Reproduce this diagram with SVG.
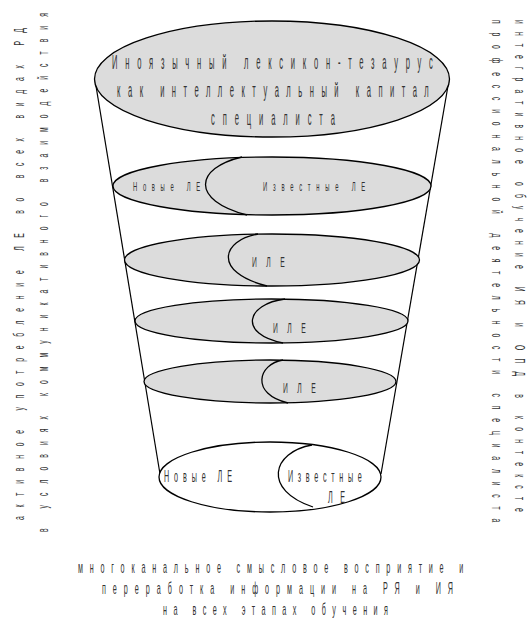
<svg xmlns="http://www.w3.org/2000/svg" width="530" height="628" viewBox="0 0 530 628">
<style>
.bg{fill:#ffffff}
.ell{fill:#dcdcdc;stroke:#000;stroke-width:1.3}
.ellw{fill:#ffffff;stroke:#000;stroke-width:1.3}
.arc{fill:none;stroke:#000;stroke-width:1.3}
.ln{fill:none;stroke:#000;stroke-width:1.2}
text{font-family:"Liberation Sans",Arial,sans-serif;fill:#333333}
.big{font-size:21px}
.mid{font-size:16px}
.sm{font-size:13px}
.ile{font-size:15px}
.side{font-size:15px}
</style>
<rect class="bg" x="0" y="0" width="530" height="628"/>
<g id="connectors">
<line class="ln" x1="95" y1="80" x2="160" y2="474"/>
<line class="ln" x1="449" y1="80" x2="381" y2="474"/>
</g>
<g id="top-node">
<ellipse class="ell" cx="272" cy="79" rx="177.5" ry="58"/>
<text class="big" transform="translate(112,69) scale(0.36,1)" textLength="891" lengthAdjust="spacing">Иноязычный лексикон-тезаурус</text>
<text class="big" transform="translate(117,97) scale(0.36,1)" textLength="866" lengthAdjust="spacing">как интеллектуальный капитал</text>
<text class="big" transform="translate(211,125) scale(0.36,1)" textLength="344" lengthAdjust="spacing">специалиста</text>
</g>
<g id="layer-1">
<ellipse class="ell" cx="272" cy="186" rx="159" ry="29"/>
<path class="arc" d="M242,157 C195,168 190,200 247,215"/>
<text class="sm" transform="translate(133,191) scale(0.45,1)" textLength="149" lengthAdjust="spacing">Новые ЛЕ</text>
<text class="sm" transform="translate(263,191) scale(0.45,1)" textLength="227" lengthAdjust="spacing">Известные ЛЕ</text>
</g>
<g id="layer-2">
<ellipse class="ell" cx="272" cy="260" rx="147.5" ry="26"/>
<path class="arc" d="M258,234 C222,240 212,272 267,286"/>
<text class="ile" transform="translate(252,267) scale(0.45,1)" textLength="73" lengthAdjust="spacing">ИЛЕ</text>
</g>
<g id="layer-3">
<ellipse class="ell" cx="271.5" cy="321" rx="136.5" ry="22"/>
<path class="arc" d="M285,299 C246,304 238,334 283,343"/>
<text class="ile" transform="translate(273,333) scale(0.45,1)" textLength="73" lengthAdjust="spacing">ИЛЕ</text>
</g>
<g id="layer-4">
<ellipse class="ell" cx="270" cy="381.5" rx="126" ry="21.5"/>
<path class="arc" d="M283,360 C258,364 250,394 288,403"/>
<text class="ile" transform="translate(283,393) scale(0.45,1)" textLength="73" lengthAdjust="spacing">ИЛЕ</text>
</g>
<g id="bottom-node">
<ellipse class="ellw" cx="270" cy="477" rx="111" ry="35"/>
<path class="arc" d="M312,445 C272,452 262,490 313,507"/>
<text class="mid" transform="translate(164,482) scale(0.45,1)" textLength="151" lengthAdjust="spacing">Новые ЛЕ</text>
<text class="mid" transform="translate(288,482) scale(0.45,1)" textLength="164" lengthAdjust="spacing">Известные</text>
<text class="mid" transform="translate(328,503) scale(0.45,1)" textLength="38" lengthAdjust="spacing">ЛЕ</text>
</g>
<g id="left-label">
<text class="side" transform="translate(24,520) rotate(-90) scale(0.45,1)" textLength="1093" lengthAdjust="spacing">активное употребление ЛЕ во всех видах РД</text>
<text class="side" transform="translate(48,532) rotate(-90) scale(0.45,1)" textLength="1153" lengthAdjust="spacing">в условиях коммуникативного взаимодействия</text>
</g>
<g id="right-label">
<text class="side" transform="translate(515,20) rotate(90) scale(0.45,1)" textLength="1093" lengthAdjust="spacing">интегративное обучение ИЯ и ОПД в контексте</text>
<text class="side" transform="translate(492,20) rotate(90) scale(0.45,1)" textLength="1116" lengthAdjust="spacing">профессиональной деятельности специалиста</text>
</g>
<g id="bottom-label">
<text class="mid" transform="translate(78,573) scale(0.45,1)" textLength="856" lengthAdjust="spacing">многоканальное смысловое восприятие и</text>
<text class="mid" transform="translate(102,594) scale(0.45,1)" textLength="780" lengthAdjust="spacing">переработка информации на РЯ и ИЯ</text>
<text class="mid" transform="translate(163,615) scale(0.45,1)" textLength="500" lengthAdjust="spacing">на всех этапах обучения</text>
</g>
</svg>
